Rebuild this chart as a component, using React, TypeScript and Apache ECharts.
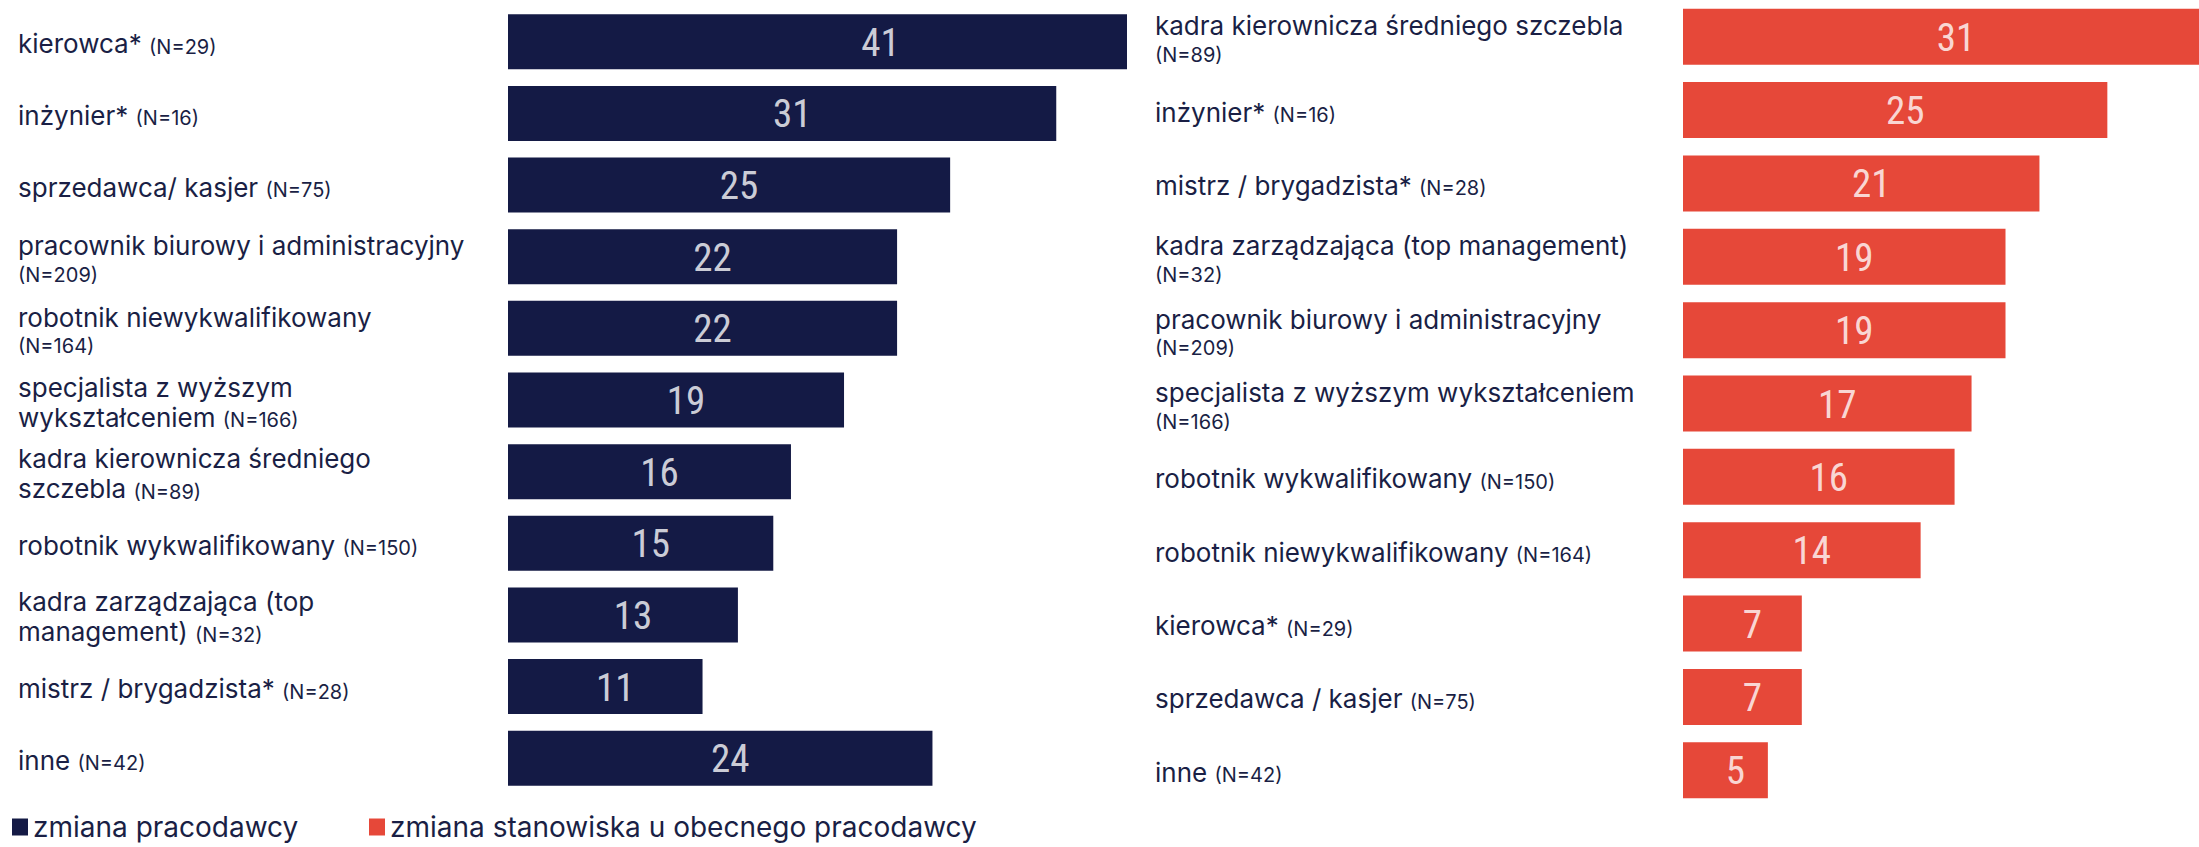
import React, { useEffect, useRef } from "react";
import * as echarts from "echarts";

// ---- data ----
const leftCategories = [
  "kierowca*",
  "inżynier*",
  "sprzedawca/ kasjer",
  "pracownik biurowy i administracyjny\n",
  "robotnik niewykwalifikowany\n",
  "specjalista z wyższym\nwykształceniem",
  "kadra kierownicza średniego\nszczebla",
  "robotnik wykwalifikowany",
  "kadra zarządzająca (top\nmanagement)",
  "mistrz / brygadzista*",
  "inne",
];
const leftN = [29, 16, 75, 209, 164, 166, 89, 150, 32, 28, 42];
const leftValues = [41, 31, 25, 22, 22, 19, 16, 15, 13, 11, 24];

const rightCategories = [
  "kadra kierownicza średniego szczebla\n",
  "inżynier*",
  "mistrz / brygadzista*",
  "kadra zarządzająca (top management)\n",
  "pracownik biurowy i administracyjny\n",
  "specjalista z wyższym wykształceniem\n",
  "robotnik wykwalifikowany",
  "robotnik niewykwalifikowany",
  "kierowca*",
  "sprzedawca / kasjer",
  "inne",
];
const rightN = [89, 16, 28, 32, 209, 166, 150, 164, 29, 75, 42];
const rightValues = [31, 25, 21, 19, 19, 17, 16, 14, 7, 7, 5];

const seriesNames = ["zmiana pracodawcy", "zmiana stanowiska u obecnego pracodawcy"];

// ---- styles ----
const NAVY = "#141a45";
const RED = "#e64839";
const TEXT = "#1a1f45";
const FONT = "Inter, 'Noto Sans', sans-serif";
const NUM_FONT = "'Liberation Sans Narrow', 'Roboto Condensed', 'DejaVu Sans Condensed', Roboto, sans-serif";

function fmtLabel(name: string, n: number) {
  const lines = name.split("\n");
  const last = lines.pop() as string;
  const head = lines.map((l) => `{n|${l}}`).join("\n");
  const tail = last ? `{n|${last} }{s|(N=${n})}` : `{s|(N=${n})}`;
  return head ? head + "\n" + tail : tail;
}

const rich = {
  n: { fontSize: 26, lineHeight: 30, color: TEXT, fontFamily: FONT, verticalAlign: "bottom" },
  s: { fontSize: 20, lineHeight: 26, color: TEXT, fontFamily: FONT, verticalAlign: "bottom" },
};

export default function App() {
  const ref = useRef<HTMLDivElement>(null);
  useEffect(() => {
    if (!ref.current) return;
    const chart = echarts.init(ref.current, undefined, { renderer: "svg" });
    const valueLabel = (vals: number[]) => ({
      show: true,
      position: "inside",
      offset: [10, 1],
      color: "#ffffff",
      fontSize: 39,
      fontFamily: NUM_FONT,
      formatter: (p: any) => String(vals[p.dataIndex]),
    });
    const legendText = { fontSize: 28, color: TEXT, fontFamily: FONT };
    chart.setOption({
      animation: false,
      backgroundColor: "#ffffff",
      grid: [
        { left: 508, width: 619, top: 6, height: 788 },
        { left: 1683, width: 516, top: 0, height: 807 },
      ],
      xAxis: [
        { type: "value", gridIndex: 0, min: 0, max: 35, show: false },
        { type: "value", gridIndex: 1, min: 0, max: 30.4, show: false },
      ],
      yAxis: [
        {
          type: "category",
          gridIndex: 0,
          inverse: true,
          data: leftCategories,
          axisLine: { show: false },
          axisTick: { show: false },
          splitLine: { show: false },
          axisLabel: {
            align: "left",
            margin: 490,
            formatter: (v: string, i: number) => fmtLabel(v, leftN[i]),
            rich,
          },
        },
        {
          type: "category",
          gridIndex: 1,
          inverse: true,
          data: rightCategories,
          axisLine: { show: false },
          axisTick: { show: false },
          splitLine: { show: false },
          axisLabel: {
            align: "left",
            margin: 528,
            formatter: (v: string, i: number) => fmtLabel(v, rightN[i]),
            rich,
          },
        },
      ],
      legend: [
        {
          left: 12,
          top: 813,
          padding: 0,
          data: [seriesNames[0]],
          icon: "rect",
          itemWidth: 16,
          itemHeight: 17,
          selectedMode: false,
          textStyle: legendText,
        },
        {
          left: 369,
          top: 813,
          padding: 0,
          data: [seriesNames[1]],
          icon: "rect",
          itemWidth: 16,
          itemHeight: 17,
          selectedMode: false,
          textStyle: legendText,
        },
      ],
      series: [
        {
          name: seriesNames[0],
          type: "bar",
          xAxisIndex: 0,
          yAxisIndex: 0,
          barWidth: 55,
          data: leftValues,
          itemStyle: { color: NAVY },
        },
        {
          name: seriesNames[1],
          type: "bar",
          xAxisIndex: 1,
          yAxisIndex: 1,
          barWidth: 56,
          data: rightValues,
          itemStyle: { color: RED },
        },
        {
          name: "left-labels",
          type: "scatter",
          xAxisIndex: 0,
          yAxisIndex: 0,
          silent: true,
          symbolSize: 1,
          itemStyle: { color: "rgba(0,0,0,0)" },
          data: leftValues.map((v, i) => [v / 2, i]),
          label: valueLabel(leftValues),
          z: 5,
        },
        {
          name: "right-labels",
          type: "scatter",
          xAxisIndex: 1,
          yAxisIndex: 1,
          silent: true,
          symbolSize: 1,
          itemStyle: { color: "rgba(0,0,0,0)" },
          data: rightValues.map((v, i) => [v / 2, i]),
          label: valueLabel(rightValues),
          z: 5,
        },
      ],
    });
    return () => chart.dispose();
  }, []);
  return (
    <div
      ref={ref}
      style={{ position: "absolute", left: 0, top: 0, width: 2199, height: 847 }}
    />
  );
}
